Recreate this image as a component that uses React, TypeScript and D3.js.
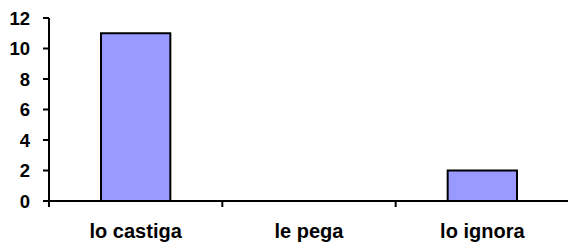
import React from 'react';
import * as d3 from 'd3';

const categories = ['lo castiga', 'le pega', 'lo ignora'];
const values = [11, 0, 2];
const yTicks = [0, 2, 4, 6, 8, 10, 12];

export default function App() {
  const width = 568;
  const height = 246;
  const left = 49;
  const right = 569;
  const top = 18;
  const bottom = 201;

  const x = d3.scaleBand<string>()
    .domain(categories)
    .range([left, right])
    .paddingInner(0.6)
    .paddingOuter(0.3);
  const y = d3.scaleLinear().domain([0, 12]).range([bottom, top]);

  const step = x.step();
  const bounds = d3.range(categories.length + 1).map(i => left + i * step);

  const font = 'Arimo, "Liberation Sans", Arial, sans-serif';

  return (
    <svg width={width} height={height} style={{ position: 'absolute', left: 0, top: 0 }}>
      <rect width={width} height={height} fill="white" />
      {categories.map((c, i) => (
        values[i] > 0 ? (
          <rect key={c}
            x={x(c)}
            y={y(values[i])}
            width={x.bandwidth()}
            height={y(0) - y(values[i])}
            fill="#9999FF"
            stroke="black"
            strokeWidth={2} />
        ) : null
      ))}
      {/* y axis */}
      <line x1={left} x2={left} y1={top} y2={bottom + 6} stroke="black" strokeWidth={2} />
      {yTicks.map(t => (
        <g key={t}>
          <line x1={left - 6} x2={left} y1={y(t)} y2={y(t)} stroke="black" strokeWidth={2} />
          <text x={30} y={y(t)} dy="0.36em" textAnchor="end"
            fontFamily={font} fontWeight="bold" fontSize={18.5}>{t}</text>
        </g>
      ))}
      {/* x axis */}
      <line x1={left} x2={right} y1={bottom} y2={bottom} stroke="black" strokeWidth={2} />
      {bounds.map((b, i) => (
        <line key={i} x1={b} x2={b} y1={bottom} y2={bottom + 6} stroke="black" strokeWidth={2} />
      ))}
      {categories.map(c => (
        <text key={c} x={(x(c) ?? 0) + x.bandwidth() / 2} y={238} textAnchor="middle"
          fontFamily={font} fontWeight="bold" fontSize={20}>{c}</text>
      ))}
    </svg>
  );
}
